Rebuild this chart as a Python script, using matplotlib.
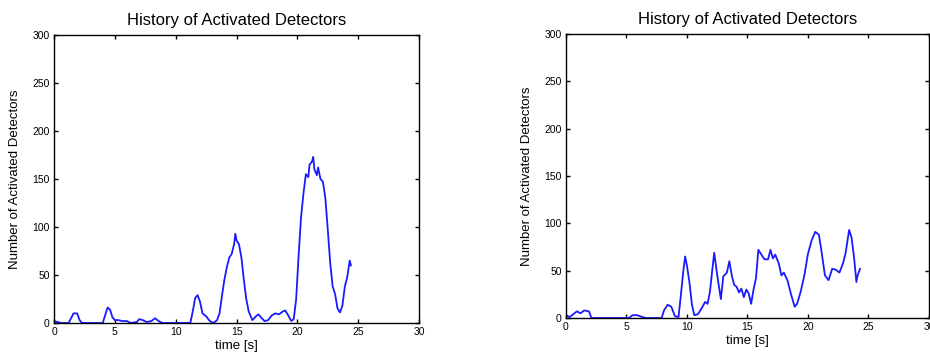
import matplotlib
matplotlib.use('Agg')
import matplotlib.pyplot as plt

# Left panel data (time [s], number of activated detectors)
t_left = [0.0, 0.3, 0.6, 1.2, 1.4, 1.6, 1.9, 2.1, 2.3, 4.0, 4.2, 4.4, 4.6, 4.8,
          5.0, 5.3, 5.6, 6.0, 6.3, 6.8, 7.0, 7.3, 7.6, 8.0, 8.3, 8.6, 8.9, 11.2,
          11.4, 11.6, 11.8, 12.0, 12.2, 12.5, 12.8, 13.1, 13.4, 13.6, 13.8, 14.0,
          14.2, 14.4, 14.6, 14.8, 14.9, 15.0, 15.2, 15.4, 15.6, 15.8, 16.0, 16.3,
          16.6, 16.8, 17.0, 17.3, 17.6, 17.9, 18.2, 18.5, 18.8, 19.0, 19.2, 19.5,
          19.7, 19.9, 20.1, 20.3, 20.5, 20.7, 20.9, 21.0, 21.2, 21.3, 21.4, 21.6,
          21.7, 21.9, 22.1, 22.3, 22.5, 22.7, 22.9, 23.1, 23.3, 23.5, 23.7, 23.9,
          24.1, 24.3, 24.4]
n_left = [2, 1, 0, 0, 5, 10, 10, 3, 0, 0, 8, 16, 14, 6,
          3, 3, 2, 2, 0, 1, 4, 3, 1, 2, 5, 2, 0, 0,
          12, 26, 29, 22, 10, 7, 2, 0, 3, 10, 28, 45,
          58, 68, 72, 82, 93, 86, 82, 68, 45, 25, 12, 3,
          7, 9, 6, 2, 3, 8, 10, 9, 12, 13, 9, 2,
          4, 25, 70, 110, 135, 155, 152, 165, 168, 173, 160, 154,
          162, 150, 147, 130, 97, 62, 38, 30, 15, 11, 18, 38,
          48, 65, 60]

# Right panel data
t_right = [0.0, 0.3, 0.6, 0.9, 1.2, 1.5, 1.9, 2.1, 5.2, 5.5, 5.9, 6.3, 6.6, 7.9,
           8.1, 8.4, 8.7, 9.0, 9.3, 9.5, 9.7, 9.85, 10.0, 10.2, 10.4, 10.6, 10.9,
           11.2, 11.5, 11.7, 11.9, 12.1, 12.25, 12.5, 12.8, 13.0, 13.3, 13.5, 13.7,
           13.9, 14.1, 14.3, 14.5, 14.7, 14.9, 15.1, 15.3, 15.5, 15.7, 15.9, 16.1,
           16.4, 16.7, 16.9, 17.1, 17.3, 17.6, 17.8, 18.0, 18.3, 18.6, 18.9, 19.1,
           19.4, 19.7, 20.0, 20.3, 20.6, 20.9, 21.1, 21.4, 21.7, 22.0, 22.3, 22.6,
           22.9, 23.1, 23.4, 23.6, 23.8, 24.0, 24.1, 24.3]
n_right = [3, 1, 4, 7, 5, 8, 7, 0, 0, 3, 3, 1, 0, 0,
           8, 14, 12, 2, 1, 25, 50, 65, 55, 38, 15, 3, 4,
           10, 17, 15, 28, 52, 69, 45, 20, 44, 48, 60, 45,
           35, 33, 27, 31, 22, 30, 26, 15, 30, 42, 72, 68,
           62, 62, 72, 63, 67, 57, 45, 48, 40, 25, 12, 15,
           28, 45, 68, 82, 91, 88, 72, 45, 40, 52, 51, 48,
           58, 68, 93, 85, 65, 38, 45, 52]

plt.rcParams['font.family'] = ['Liberation Sans', 'DejaVu Sans']

fig = plt.figure(figsize=(9.3, 3.58), dpi=100)
ax1 = fig.add_axes([0.0581, 0.0978, 0.3925, 0.8045])
ax2 = fig.add_axes([0.6086, 0.1117, 0.3903, 0.7933])

for ax, t, n in [(ax1, t_left, n_left), (ax2, t_right, n_right)]:
    ax.plot(t, n, color='#1a1aff', linewidth=1.3)
    ax.set_xlim(0, 30)
    ax.set_ylim(0, 300)
    ax.set_xticks(range(0, 31, 5))
    ax.set_yticks(range(0, 301, 50))
    ax.tick_params(direction='in', length=3, width=1, labelsize=7.5,
                   top=True, right=True, pad=3)
    for s in ax.spines.values():
        s.set_linewidth(1.0)
    ax.set_title('History of Activated Detectors', fontsize=12, pad=7)
    ax.set_xlabel('time [s]', fontsize=9.5, labelpad=2)
    ax.set_ylabel('Number of Activated Detectors', fontsize=9.5, labelpad=8)

fig.savefig('out.png', dpi=100)
